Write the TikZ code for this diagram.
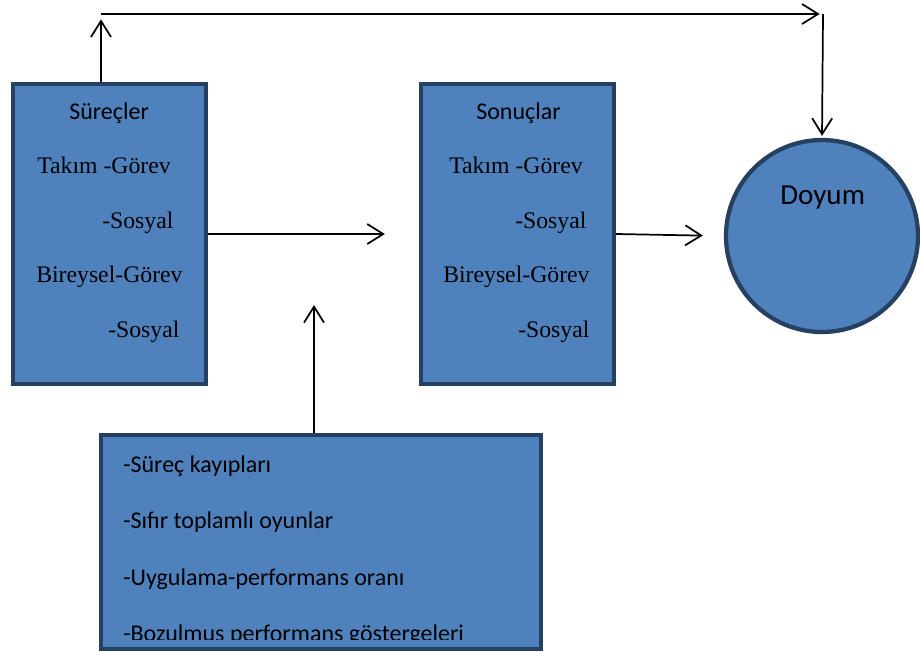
\documentclass[tikz,border=0pt]{standalone}
\usepackage{fontspec}
\setmainfont{Liberation Serif}
\newfontfamily\calibri{Carlito}
\usetikzlibrary{arrows.meta, positioning}
\definecolor{boxfill}{RGB}{79,129,189}
\definecolor{boxline}{RGB}{37,64,97}

\begin{document}
\begin{tikzpicture}[x=0.75pt, y=-0.75pt, font=\fontsize{17.8}{21}\selectfont, block/.style={draw=boxline, line width=3.2pt, fill=boxfill, inner sep=0pt}, head/.style={font=\calibri\fontsize{18}{22}\selectfont, anchor=base west, inner sep=0pt}, item/.style={anchor=base west, inner sep=0pt}, arr/.style={line width=1.3pt, -{Straight Barb[length=12pt, width=15pt]}}]
\useasboundingbox (0,0) rectangle (920,651);
% boxes
\node[block, minimum width=144.75pt, minimum height=225pt] (surec) at (109.5,234){};
\node[block, minimum width=144.75pt, minimum height=225pt] (sonuc) at (517.5,234){};
\node[block, circle, minimum size=144pt] (doyum) at (822,236){};
\node[block, minimum width=330pt, minimum height=160.5pt] (etki) at (321,542){};
% texts
\node[head] (surecT) at (69,119){Süreçler};
\node[item] (surecA) at (37,173){Takım -Görev};
\node[item] (surecB) at (102,228){-Sosyal};
\node[item] (surecC) at (36,282){Bireysel-Görev};
\node[item] (surecD) at (108,337){-Sosyal};
\node[head] (sonucT) at (476,119){Sonuçlar};
\node[item] (sonucA) at (449,173){Takım -Görev};
\node[item] (sonucB) at (515,228){-Sosyal};
\node[item] (sonucC) at (443,282){Bireysel-Görev};
\node[item] (sonucD) at (518,337){-Sosyal};
\node[head, font=\calibri\fontsize{21.8}{26}\selectfont] (doyumT) at (780,204){Doyum};
\begin{scope}
\clip (103,437) rectangle (539,639);
\node[head] (etkiA) at (123,472){-Süreç kayıpları};
\node[head] (etkiB) at (123,528){-Sıfır toplamlı oyunlar};
\node[head] (etkiC) at (123,585){-Uygulama-performans oranı};
\node[head] (etkiD) at (123,641){-Bozulmuş performans göstergeleri};
\end{scope}
% connectors
\coordinate (topL) at (101,14);
\coordinate (topR) at (823,14);
\coordinate (midIn) at (314,305);
\draw[arr, shorten >=4pt] (surec.north -| topL) -- (topL);
\draw[arr, shorten >=2.5pt] (topL) -- (topR);
\draw[arr, shorten >=1.5pt] (topR) -- (doyum.north);
\draw[arr, shorten >=25.5pt] (surec.east) -- (sonuc.west);
\draw[arr, shorten >=15.75pt] (sonuc.east) -- (doyum.west);
\draw[arr] (etki.north -| midIn) -- (midIn);
\end{tikzpicture}
\end{document}
